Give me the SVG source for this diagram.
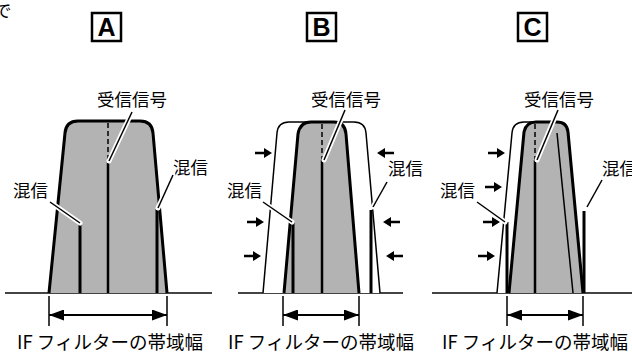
<svg xmlns="http://www.w3.org/2000/svg" xmlns:xlink="http://www.w3.org/1999/xlink" width="632" height="355" viewBox="0 0 632 355">
<style>
text{font-family:"Noto Sans CJK JP","Noto Sans",sans-serif;fill:#000}
.lbl{font-size:17.5px}
.cap{font-size:18.5px;text-anchor:middle}
.box{fill:#fff;stroke:#000;stroke-width:2.5}
.boxt{font-family:"Liberation Sans",Arial,sans-serif;font-weight:bold;font-size:25px;text-anchor:middle}
.gray{fill:#b3b3b3;stroke:none}
.edge{fill:none;stroke:#000;stroke-width:3;stroke-linejoin:round}
.outer{fill:#fff;stroke:#000;stroke-width:1.5}
.thin{fill:none;stroke:#000;stroke-width:1.5}
.sig{stroke:#000;stroke-width:2.5}
.dash{stroke:#000;stroke-width:1.5;stroke-dasharray:5 3}
.intf{stroke:#000;stroke-width:3}
.base{stroke:#444;stroke-width:2}
.halo{stroke:#fff;stroke-width:5;stroke-linecap:round}
.lead{stroke:#000;stroke-width:1.5}
.tick{stroke:#000;stroke-width:1.5}
.dim{stroke:#000;stroke-width:2;marker-start:url(#dh);marker-end:url(#dh)}
</style>
<defs>
<marker id="dh" markerUnits="userSpaceOnUse" markerWidth="15" markerHeight="11" refX="15" refY="5.5" orient="auto-start-reverse"><path d="M0,0 L15,5.5 L0,11 Z" fill="#000"/></marker>
<path id="ar" d="M-17,-1.2 L-8,-1.2 L-8,-5 L0,0 L-8,5 L-8,1.2 L-17,1.2 Z" fill="#000"/>
<path id="al" d="M17,-1.2 L8,-1.2 L8,-5 L0,0 L8,5 L8,1.2 L17,1.2 Z" fill="#000"/>
</defs>
<rect width="632" height="355" fill="#fff"/>
<text x="-6" y="17" class="lbl">で</text>

<!-- Panel A -->
<g id="label-A"><rect class="box" x="92" y="13" width="29" height="28"/><text class="boxt" x="106.5" y="36">A</text></g>
<g id="panel-A">
<line class="base" x1="5" y1="293" x2="212" y2="293"/>
<path class="gray" d="M49,293 L65,133 Q66,121 78,121 L140,121 Q152,121 153,133 L167,293 Z"/>
<path class="edge" d="M49,293 L65,133 Q66,121 78,121 L140,121 Q152,121 153,133 L167,293"/>
<line class="dash" x1="108" y1="123" x2="108" y2="161"/>
<line class="sig" x1="108" y1="161" x2="108" y2="293"/>
<line class="intf" x1="80" y1="223" x2="80" y2="293"/>
<line class="intf" x1="157" y1="209" x2="157" y2="293"/>
</g>
<g id="text-A">
<text class="lbl" x="132" y="106" text-anchor="middle">受信信号</text>
<text class="lbl" x="13" y="197">混信</text>
<text class="lbl" x="173" y="174">混信</text>
<text class="cap" x="110" y="349">IF フィルターの帯域幅</text>
</g>

<!-- Panel B -->
<g id="label-B"><rect class="box" x="307" y="13" width="29" height="28"/><text class="boxt" x="321.5" y="36">B</text></g>
<g id="panel-B">
<line class="base" x1="238" y1="293" x2="403" y2="293"/>
<path class="outer" d="M263,293 L277,133 Q278,122 289,122 L354,122 Q365,122 366,133 L380,293"/>
<path class="gray" d="M284,293 L298,134 Q300,122 311,122 L334,122 Q345,122 346,134 L359,293 Z"/>
<path class="edge" d="M284,293 L298,134 Q300,122 311,122 L334,122 Q345,122 346,134 L359,293"/>
<line class="dash" x1="322" y1="124" x2="322" y2="160"/>
<line class="sig" x1="322" y1="160" x2="322" y2="293"/>
<line class="intf" x1="293" y1="222" x2="293" y2="293"/>
<line class="intf" x1="371" y1="210" x2="371" y2="293"/>
<use xlink:href="#ar" x="272" y="153"/>
<use xlink:href="#ar" x="264" y="222"/>
<use xlink:href="#ar" x="261" y="256"/>
<use xlink:href="#al" x="377" y="153"/>
<use xlink:href="#al" x="383" y="222"/>
<use xlink:href="#al" x="386" y="256"/>
</g>
<g id="text-B">
<text class="lbl" x="346" y="106" text-anchor="middle">受信信号</text>
<text class="lbl" x="227" y="197">混信</text>
<text class="lbl" x="388" y="175">混信</text>
<text class="cap" x="321" y="349">IF フィルターの帯域幅</text>
</g>

<!-- Panel C -->
<g id="label-C"><rect class="box" x="518" y="13" width="29" height="28"/><text class="boxt" x="532.5" y="36">C</text></g>
<g id="panel-C">
<line class="base" x1="432" y1="293" x2="632" y2="293"/>
<path class="outer" d="M497,293 L512,133 Q513,122 524,122 L546,122 Q556,122 557,133 L573,293"/>
<path class="gray" d="M509,293 L524,132 Q526,122 536,122 L557,122 Q567,122 568,132 L583,293 Z"/>
<path class="thin" d="M557,133 L573,293"/>
<path class="edge" d="M509,293 L524,132 Q526,122 536,122 L557,122 Q567,122 568,132 L583,293"/>
<line class="dash" x1="535" y1="124" x2="535" y2="160"/>
<line class="sig" x1="535" y1="160" x2="535" y2="293"/>
<line class="intf" x1="507" y1="222" x2="507" y2="293"/>
<line class="intf" x1="584" y1="211" x2="584" y2="293"/>
<use xlink:href="#ar" x="505" y="153"/>
<use xlink:href="#ar" x="502" y="187"/>
<use xlink:href="#ar" x="500" y="222"/>
<use xlink:href="#ar" x="495" y="256"/>
</g>
<g id="text-C">
<text class="lbl" x="559" y="106" text-anchor="middle">受信信号</text>
<text class="lbl" x="440" y="197">混信</text>
<text class="lbl" x="602" y="175">混信</text>
<text class="cap" x="535" y="349">IF フィルターの帯域幅</text>
</g>

<!-- Connectors: leader lines and bandwidth arrows -->
<g id="connectors">
<line class="halo" x1="132" y1="112" x2="109" y2="161"/>
<line class="lead" x1="132" y1="112" x2="109" y2="161"/>
<line class="halo" x1="50" y1="202" x2="80" y2="223"/>
<line class="lead" x1="50" y1="202" x2="80" y2="223"/>
<line class="halo" x1="173" y1="175" x2="158" y2="208"/>
<line class="lead" x1="173" y1="175" x2="158" y2="208"/>

<line class="halo" x1="345" y1="110" x2="324" y2="160"/>
<line class="lead" x1="345" y1="110" x2="324" y2="160"/>
<line class="halo" x1="263" y1="202" x2="292" y2="222"/>
<line class="lead" x1="263" y1="202" x2="292" y2="222"/>
<line class="halo" x1="387" y1="182" x2="373" y2="207"/>
<line class="lead" x1="387" y1="182" x2="373" y2="207"/>

<line class="halo" x1="558" y1="110" x2="537" y2="160"/>
<line class="lead" x1="558" y1="110" x2="537" y2="160"/>
<line class="halo" x1="477" y1="202" x2="505" y2="222"/>
<line class="lead" x1="477" y1="202" x2="505" y2="222"/>
<line class="halo" x1="602" y1="180" x2="587" y2="207"/>
<line class="lead" x1="602" y1="180" x2="587" y2="207"/>

<line class="tick" x1="49" y1="296" x2="49" y2="326"/>
<line class="tick" x1="167" y1="296" x2="167" y2="326"/>
<line class="dim" x1="49" y1="315" x2="167" y2="315"/>
<line class="tick" x1="283" y1="296" x2="283" y2="326"/>
<line class="tick" x1="359" y1="296" x2="359" y2="326"/>
<line class="dim" x1="283" y1="315" x2="359" y2="315"/>
<line class="tick" x1="507" y1="296" x2="507" y2="326"/>
<line class="tick" x1="583" y1="296" x2="583" y2="326"/>
<line class="dim" x1="507" y1="315" x2="583" y2="315"/>
</g>
</svg>
